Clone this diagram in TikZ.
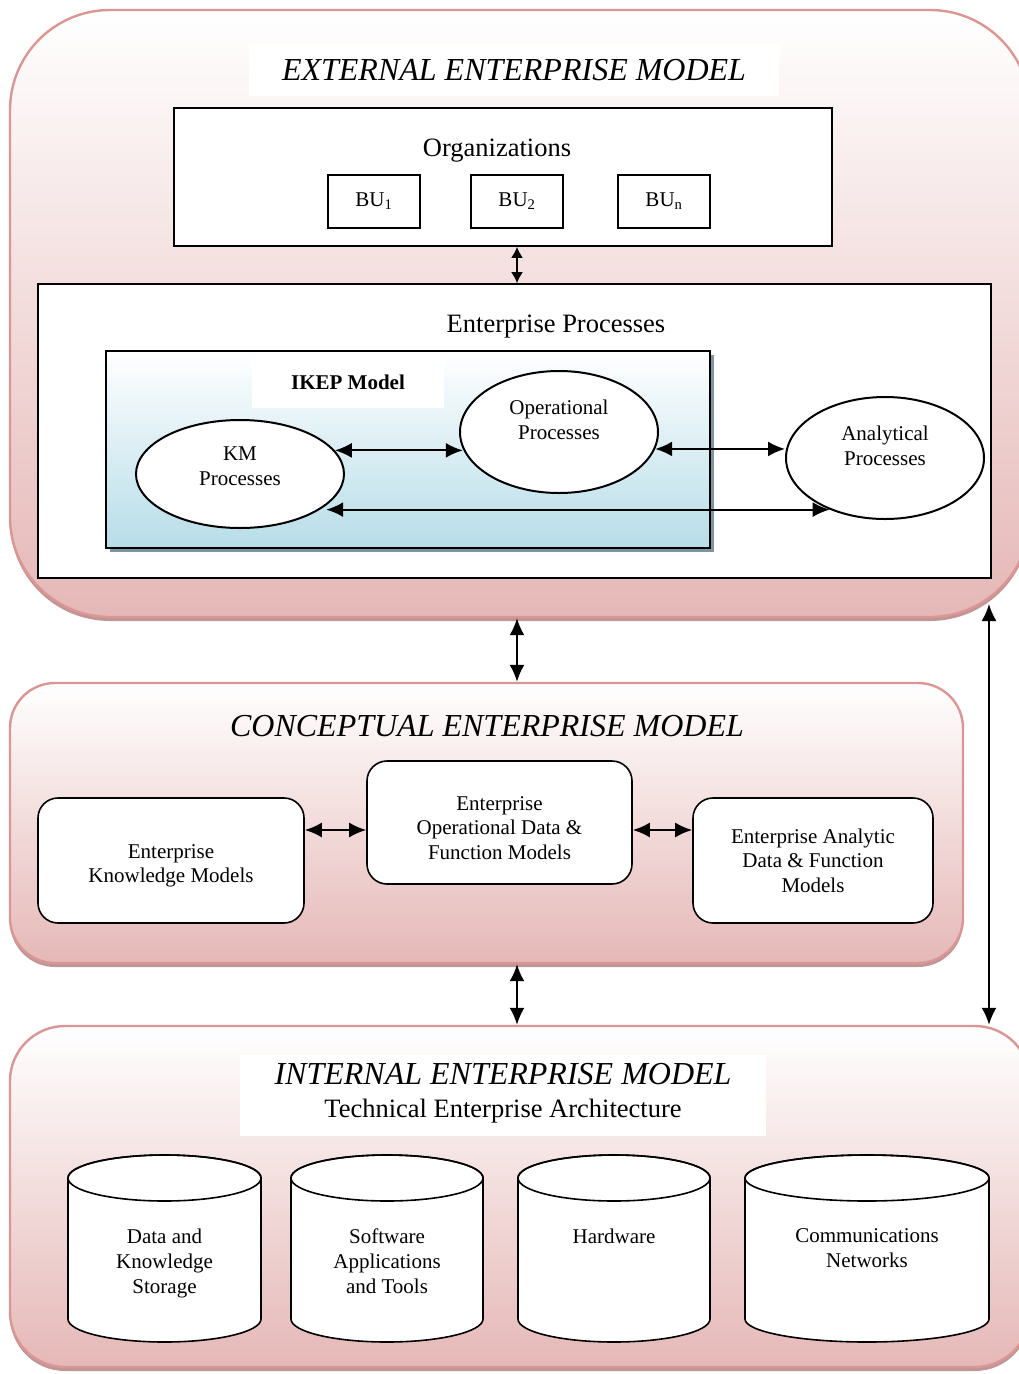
\documentclass[tikz,border=0pt]{standalone}
\usepackage{fontspec}
\setmainfont{Liberation Serif}
\usetikzlibrary{positioning}
\usetikzlibrary{calc}
\usetikzlibrary{arrows.meta}
\usetikzlibrary{shapes.geometric}
\usetikzlibrary{shadows}
\definecolor{pinkbot}{RGB}{229,184,183}
\definecolor{pinkline}{RGB}{217,150,148}
\definecolor{pinkshade}{RGB}{190,150,150}
\definecolor{aqua}{RGB}{183,221,232}
\definecolor{aquashade}{RGB}{125,150,160}

\begin{document}
\begin{tikzpicture}[x=1pt,y=-1pt,>={Latex[length=17pt,width=15pt]},
  panel/.style={draw=pinkline,line width=2.4pt,top color=white,bottom color=pinkbot,inner sep=0pt,
    drop shadow={shadow xshift=0pt,shadow yshift=-4pt,fill=pinkshade,opacity=1}},
  frame/.style={draw,line width=1.6pt,fill=white,inner sep=0pt},
  softbox/.style={frame,rounded corners=20pt,align=center,font=\fontsize{21}{24.5}\selectfont},
  proc/.style={ellipse,draw,line width=2pt,fill=white,inner sep=0pt,align=center,font=\fontsize{21}{25}\selectfont},
  smalltxt/.style={align=center,font=\fontsize{21}{25}\selectfont},
  bigtxt/.style={font=\fontsize{26.5}{30}\selectfont},
  titletxt/.style={font=\fontsize{32}{36}\selectfont\itshape},
  dbl/.style={<->,line width=2pt},
  shortdbl/.style={dbl,>={Latex[length=11pt,width=12pt]}}]

\useasboundingbox (0,0) rectangle (1018,1374);

% the three model layers
\node[panel,rounded corners=100pt,minimum width=1020,minimum height=607] (ext) at (520,313.5) {};
\node[panel,rounded corners=45pt,minimum width=953,minimum height=280] (con) at (486.5,823) {};
\node[panel,rounded corners=55pt,minimum width=1020,minimum height=341] (int) at (520,1196.5) {};

\coordinate (mid) at (517,0);
\coordinate (rtop) at (989,604);
\coordinate (c830) at (0,830);

% external model
\node[titletxt,fill=white,minimum width=530,minimum height=52] (extT) at (514,70) {EXTERNAL ENTERPRISE MODEL};
\node[frame,minimum width=658,minimum height=138] (orgs) at (503,177) {};
\node[bigtxt] (orgsT) at (497,151) {Organizations};
\node[frame,smalltxt,minimum width=92,minimum height=53] (bu1) at (374,201.5) {BU\textsubscript{1}};
\node[frame,smalltxt,minimum width=92,minimum height=53] (bu2) at (517,201.5) {BU\textsubscript{2}};
\node[frame,smalltxt,minimum width=92,minimum height=53] (bun) at (664,201.5) {BU\textsubscript{n}};

\node[frame,minimum width=953,minimum height=294] (ep) at (514.5,431) {};
\node[bigtxt] (epT) at (556,327) {Enterprise Processes};
\node[draw,line width=2.5pt,top color=white,bottom color=aqua,minimum width=604,minimum height=197,
  drop shadow={shadow xshift=4pt,shadow yshift=-4pt,fill=aquashade,opacity=1}] (ikep) at (408,449.5) {};
\node[smalltxt,fill=white,minimum width=192,minimum height=51,font=\fontsize{21}{25}\selectfont\bfseries] (ikepT) at (348,382.5) {IKEP Model};

\node[proc,minimum width=208,minimum height=108] (km) at (240,474) {KM\\Processes\\[-10pt]\mbox{}};
\node[proc,minimum width=198,minimum height=122] (op) at (559,432) {Operational\\Processes\\\mbox{}};
\node[proc,minimum width=198,minimum height=122] (an) at (885,458) {Analytical\\Processes\\\mbox{}};

\draw[shortdbl] (orgs.south -| mid) -- (ep.north -| mid);
\draw[dbl] (km.14) -- (km.14 -| op.190);
\draw[dbl] (op.350) -- (op.350 -| an.west);
\draw[dbl] (an.223 -| km.340) -- (an.223);

% conceptual model
\node[titletxt] (conT) at (487,726) {CONCEPTUAL ENTERPRISE MODEL};
\node[softbox,minimum width=266,minimum height=125] (ekm) at (171,860.5) {\mbox{}\\Enterprise\\Knowledge Models};
\node[softbox,minimum width=265,minimum height=123] (eod) at (499.5,822.5) {\mbox{}\\Enterprise\\Operational Data \&\\Function Models};
\node[softbox,minimum width=240,minimum height=125] (ead) at (813,860.5) {Enterprise Analytic\\Data \& Function\\Models};

\draw[dbl] (ekm.east |- c830) -- (eod.west |- c830);
\draw[dbl] (eod.east |- c830) -- (ead.west |- c830);

% links between layers
\draw[dbl] (ext.south -| mid) -- (con.north -| mid);
\draw[dbl] (con.south -| mid) -- (int.north -| mid);
\draw[dbl] (rtop) -- (int.north -| rtop);

% internal model
\node[fill=white,minimum width=526,minimum height=81] (intT) at (503,1095.5) {};
\node[titletxt] (intT1) at (503,1074) {INTERNAL ENTERPRISE MODEL};
\node[bigtxt] (intT2) at (503,1111) {Technical Enterprise Architecture};

\foreach \xa/\xb/\nm/\txt in {68/261/dks/{Data and\\Knowledge\\Storage},
    291/483/sat/{Software\\Applications\\and Tools},
    518/710/hw/{Hardware},
    745/989/cn/{Communications\\Networks}}{
  \pgfmathsetmacro{\rx}{(\xb-\xa)/2}
  \pgfmathsetmacro{\xm}{(\xb+\xa)/2}
  \draw[line width=1.6pt,fill=white] (\xa,1178) -- (\xa,1319)
    arc[start angle=180,end angle=0,x radius=\rx,y radius=23] -- (\xb,1178)
    arc[start angle=0,end angle=-180,x radius=\rx,y radius=23] -- cycle;
  \draw[line width=1.6pt] (\xm,1178) ellipse[x radius=\rx,y radius=23];
  \node[smalltxt,anchor=north] (\nm) at (\xm,1225) {\txt};
}
\end{tikzpicture}
\end{document}
